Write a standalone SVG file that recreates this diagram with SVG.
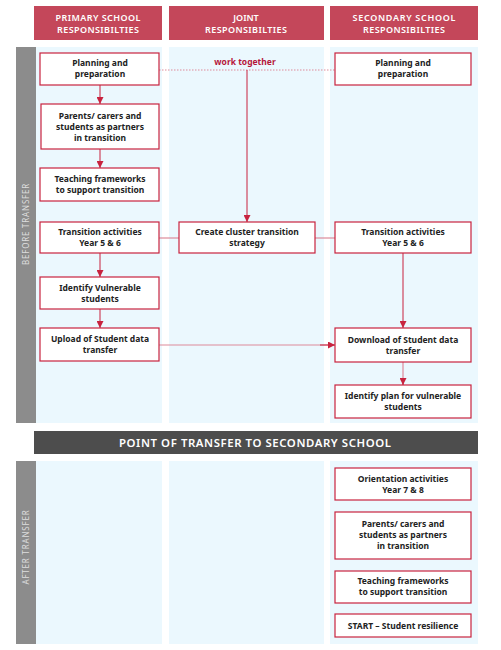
<svg xmlns="http://www.w3.org/2000/svg" width="501" height="650" viewBox="0 0 501 650">
<style>
.hdr{fill:#c4475a}
.hdrt{font-family:"Noto Sans","Liberation Sans",sans-serif;font-size:9px;font-weight:600;fill:#ffffff;text-anchor:middle}
.col{fill:#ebf8fe}
.side{fill:#8c8c8c}
.sidet{font-family:"Noto Sans","Liberation Sans",sans-serif;font-size:8px;fill:#dedede;text-anchor:middle;letter-spacing:0.8px}
.node{fill:#ffffff;stroke:#c8233f;stroke-width:1.2}
.nt{font-family:"Noto Sans","Liberation Sans",sans-serif;font-size:8.5px;font-weight:bold;fill:#222222;text-anchor:middle}
.ln{stroke:#c8233f;stroke-width:1;fill:none}
.lnl{stroke:#dd8a9a;stroke-width:1.2;fill:none}
</style>
<defs>
<marker id="ah" viewBox="0 0 10 10" refX="10" refY="5" markerWidth="7" markerHeight="7" markerUnits="userSpaceOnUse" orient="auto">
<path d="M0,0 L10,5 L0,10 z" fill="#c8233f"/>
</marker>
</defs>
<rect width="501" height="650" fill="#ffffff"/>
<g id="headers">
<rect class="hdr" x="34" y="6" width="128" height="34"/>
<text class="hdrt" x="98" y="21" textLength="85" lengthAdjust="spacing">PRIMARY SCHOOL</text>
<text class="hdrt" x="98" y="33" textLength="82" lengthAdjust="spacing">RESPONSIBILTIES</text>
<rect class="hdr" x="169" y="6" width="155" height="34"/>
<text class="hdrt" x="246" y="21">JOINT</text>
<text class="hdrt" x="246" y="33" textLength="82" lengthAdjust="spacing">RESPONSIBILTIES</text>
<rect class="hdr" x="330" y="6" width="148" height="34"/>
<text class="hdrt" x="404" y="21" textLength="103" lengthAdjust="spacing">SECONDARY SCHOOL</text>
<text class="hdrt" x="404" y="33" textLength="82" lengthAdjust="spacing">RESPONSIBILTIES</text>
</g>
<g id="lanes">
<rect class="side" x="16" y="47" width="20" height="376"/>
<text class="sidet" transform="translate(29,224) rotate(-90)">BEFORE TRANSFER</text>
<rect class="col" x="36" y="47" width="126" height="376"/>
<rect class="col" x="169" y="47" width="155" height="376"/>
<rect class="col" x="330" y="47" width="148" height="376"/>
<rect x="34" y="431" width="444" height="23" fill="#4d4d4d"/>
<text x="255" y="447" font-family="'Noto Sans','Liberation Sans',sans-serif" font-size="11.4" font-weight="600" fill="#ffffff" text-anchor="middle" textLength="272" lengthAdjust="spacing">POINT OF TRANSFER TO SECONDARY SCHOOL</text>
<rect class="side" x="16" y="461" width="20" height="183"/>
<text class="sidet" transform="translate(29,547) rotate(-90)">AFTER TRANSFER</text>
<rect class="col" x="36" y="461" width="126" height="183"/>
<rect class="col" x="169" y="461" width="155" height="183"/>
<rect class="col" x="330" y="461" width="148" height="183"/>
</g>
<g id="connectors">
<line x1="159" y1="70" x2="335" y2="70" stroke="#dd8a9a" stroke-width="1" stroke-dasharray="1.5,1.5"/>
<text x="245" y="65" font-family="'Noto Sans','Liberation Sans',sans-serif" font-size="8.5" font-weight="bold" fill="#b5163a" text-anchor="middle">work together</text>
<line class="ln" x1="247" y1="70" x2="247" y2="222" marker-end="url(#ah)"/>
<line class="ln" x1="100" y1="85" x2="100" y2="104" marker-end="url(#ah)"/>
<line class="ln" x1="100" y1="149" x2="100" y2="168" marker-end="url(#ah)"/>
<line class="ln" x1="100" y1="253" x2="100" y2="277" marker-end="url(#ah)"/>
<line class="ln" x1="100" y1="309" x2="100" y2="328" marker-end="url(#ah)"/>
<line class="lnl" x1="159" y1="238" x2="179" y2="238"/>
<line class="lnl" x1="315" y1="238" x2="335" y2="238"/>
<line class="ln" x1="403" y1="253" x2="403" y2="328" marker-end="url(#ah)"/>
<line class="lnl" x1="159" y1="345" x2="334" y2="345"/>
<line class="ln" x1="320" y1="345" x2="335" y2="345" marker-end="url(#ah)"/>
<line class="lnl" x1="403" y1="362" x2="403" y2="385"/>
<line class="ln" x1="403" y1="378" x2="403" y2="385" marker-end="url(#ah)"/>
</g>
<g id="p-planning"><rect class="node" x="40" y="53" width="119" height="32"/><text class="nt" x="100" y="66">Planning and</text><text class="nt" x="100" y="77">preparation</text></g>
<g id="p-parents"><rect class="node" x="41" y="104" width="118" height="45"/><text class="nt" x="100" y="119">Parents/ carers and</text><text class="nt" x="100" y="130">students as partners</text><text class="nt" x="100" y="141">in transition</text></g>
<g id="p-teaching"><rect class="node" x="40" y="168" width="119" height="33"/><text class="nt" x="100" y="182">Teaching frameworks</text><text class="nt" x="100" y="193">to support transition</text></g>
<g id="p-transition"><rect class="node" x="40" y="222" width="119" height="31"/><text class="nt" x="100" y="235">Transition activities</text><text class="nt" x="100" y="246">Year 5 &amp; 6</text></g>
<g id="p-vulnerable"><rect class="node" x="40" y="277" width="119" height="32"/><text class="nt" x="100" y="291">Identify Vulnerable</text><text class="nt" x="100" y="302">students</text></g>
<g id="p-upload"><rect class="node" x="40" y="328" width="119" height="33"/><text class="nt" x="100" y="342">Upload of Student data</text><text class="nt" x="100" y="353">transfer</text></g>
<g id="j-cluster"><rect class="node" x="179" y="222" width="136" height="31"/><text class="nt" x="247" y="235">Create cluster transition</text><text class="nt" x="247" y="246">strategy</text></g>
<g id="s-planning"><rect class="node" x="335" y="53" width="136" height="32"/><text class="nt" x="403" y="66">Planning and</text><text class="nt" x="403" y="77">preparation</text></g>
<g id="s-transition"><rect class="node" x="335" y="222" width="136" height="31"/><text class="nt" x="403" y="235">Transition activities</text><text class="nt" x="403" y="246">Year 5 &amp; 6</text></g>
<g id="s-download"><rect class="node" x="335" y="328" width="136" height="34"/><text class="nt" x="403" y="343">Download of Student data</text><text class="nt" x="403" y="354">transfer</text></g>
<g id="s-plan"><rect class="node" x="335" y="385" width="136" height="33"/><text class="nt" x="403" y="399">Identify plan for vulnerable</text><text class="nt" x="403" y="410">students</text></g>
<g id="s-orientation"><rect class="node" x="335" y="468" width="136" height="32"/><text class="nt" x="403" y="482">Orientation activities</text><text class="nt" x="403" y="493">Year 7 &amp; 8</text></g>
<g id="s-parents"><rect class="node" x="335" y="512" width="136" height="47"/><text class="nt" x="403" y="527">Parents/ carers and</text><text class="nt" x="403" y="538">students as partners</text><text class="nt" x="403" y="549">in transition</text></g>
<g id="s-teaching"><rect class="node" x="335" y="571" width="136" height="32"/><text class="nt" x="403" y="584">Teaching frameworks</text><text class="nt" x="403" y="595">to support transition</text></g>
<g id="s-start"><rect class="node" x="335" y="614" width="136" height="23"/><text class="nt" x="403" y="629">START – Student resilience</text></g>
</svg>
